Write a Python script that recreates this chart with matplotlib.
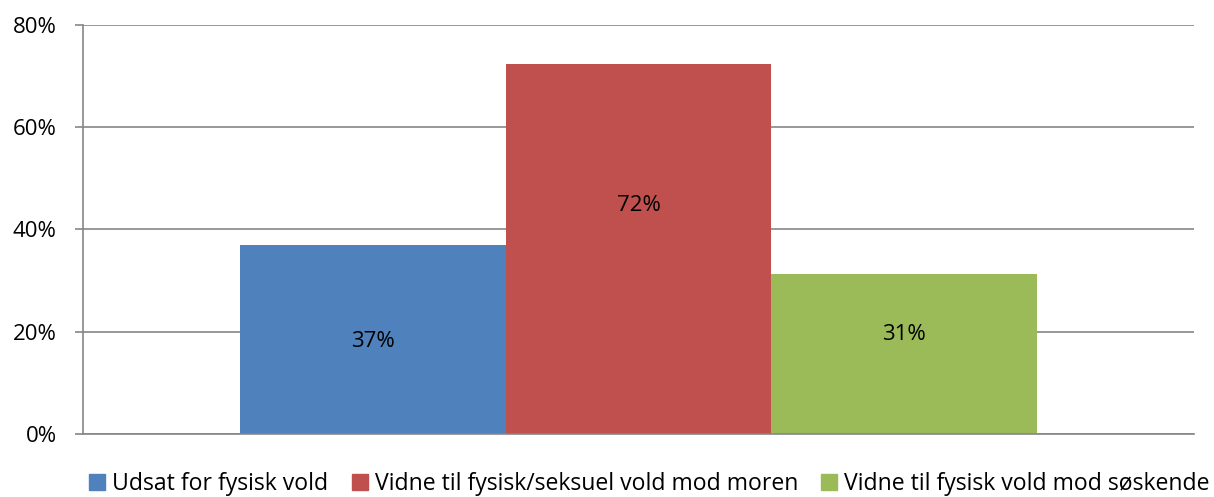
import matplotlib.pyplot as plt
from matplotlib.patches import Patch

series = ['Udsat for fysisk vold', 'Vidne til fysisk/seksuel vold mod moren', 'Vidne til fysisk vold mod søskende']
values = [0.37, 0.724, 0.313]
labels = ['37%', '72%', '31%']
label_y = [0.18, 0.446, 0.194]
colors = ['#4f81bd', '#c0504d', '#9bbb59']
yticks = [0, 0.2, 0.4, 0.6, 0.8]
ytick_labels = ['0%', '20%', '40%', '60%', '80%']

plt.rcParams['font.family'] = ['Open Sans', 'DejaVu Sans']

fig = plt.figure(figsize=(12.14, 4.97), dpi=100)
ax = fig.add_axes([0.0684, 0.1268, 0.9151, 0.8229])

x = range(len(values))
ax.bar(x, values, width=1.0, color=colors, zorder=2)
for i, v in enumerate(values):
    ax.text(i, label_y[i], labels[i], ha='center', va='center', fontsize=16, color='black', zorder=3)

ax.set_xlim(-1.09, 3.09)
ax.set_ylim(0, 0.8)
ax.set_yticks(yticks)
ax.set_yticklabels(ytick_labels, fontsize=16)
ax.set_xticks([])
ax.grid(axis='y', color='#868686', linewidth=1.2, zorder=1)
for s in ['top', 'right']:
    ax.spines[s].set_visible(False)
ax.spines['left'].set_color('#868686')
ax.spines['bottom'].set_color('#868686')
ax.spines['left'].set_linewidth(1.2)
ax.spines['bottom'].set_linewidth(1.2)
ax.tick_params(axis='y', length=6, color='#868686', width=1.2, pad=13)

handles = [Patch(color=c) for c in colors]
fig.legend(handles, series, loc='lower center', bbox_to_anchor=(0.535, -0.04), ncol=3,
           frameon=False, fontsize=16.6, handlelength=0.7, handleheight=0.7,
           handletextpad=0.3, columnspacing=1.0)

fig.savefig('out.png', dpi=100)
